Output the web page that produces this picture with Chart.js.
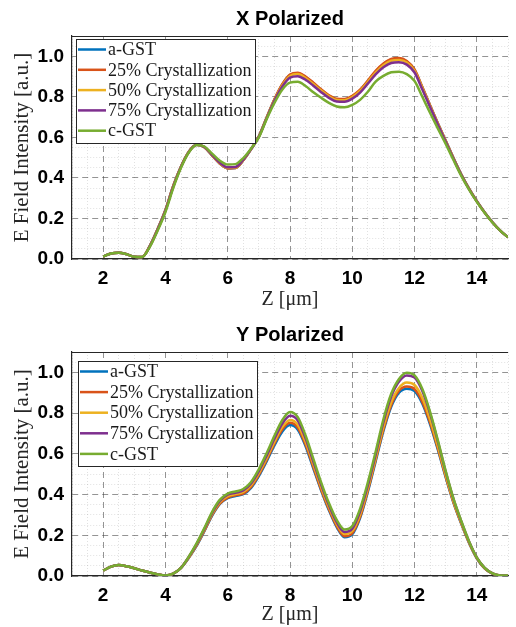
<!DOCTYPE html>
<html><head><meta charset="utf-8">
<script src="https://cdn.jsdelivr.net/npm/chart.js@4.4.1/dist/chart.umd.min.js"></script>
<style>
html,body{margin:0;padding:0;background:#fff;}
canvas{display:block;}
</style></head><body>
<canvas id="c1" width="516" height="310"></canvas>
<canvas id="c2" width="516" height="317"></canvas>
<script>
// ---------- data ----------
const zValues = [2,2.25,2.5,2.75,3,3.25,3.5,3.75,4,4.25,4.5,4.75,5,5.25,5.5,5.75,6,6.25,6.5,6.75,7,7.25,7.5,7.75,8,8.25,8.5,8.75,9,9.25,9.5,9.75,10,10.25,10.5,10.75,11,11.25,11.5,11.75,12,12.25,12.5,12.75,13,13.25,13.5,13.75,14,14.25,14.5,14.75,15];
const seriesNames = ['a-GST','25% Crystallization','50% Crystallization','75% Crystallization','c-GST'];
const chartTitles = ['X Polarized','Y Polarized'];
const xMajorTicks = [2,4,6,8,10,12,14];
const yMajorTicks = [0,0.2,0.4,0.6,0.8,1.0];

const xPolAGST = [0.012,0.027,0.031,0.024,0.011,0.010,0.065,0.148,0.242,0.360,0.456,0.529,0.563,0.551,0.510,0.470,0.447,0.449,0.487,0.542,0.605,0.697,0.786,0.860,0.907,0.916,0.897,0.867,0.834,0.805,0.787,0.786,0.802,0.832,0.877,0.925,0.961,0.984,0.988,0.974,0.932,0.846,0.756,0.668,0.583,0.498,0.417,0.347,0.285,0.230,0.181,0.140,0.107];
const xPolC25 = [0.012,0.027,0.031,0.024,0.011,0.010,0.065,0.148,0.242,0.360,0.456,0.529,0.563,0.551,0.510,0.470,0.447,0.449,0.487,0.542,0.605,0.698,0.788,0.862,0.910,0.919,0.900,0.870,0.837,0.808,0.790,0.789,0.805,0.835,0.880,0.928,0.964,0.987,0.991,0.977,0.935,0.848,0.757,0.668,0.583,0.498,0.417,0.347,0.285,0.230,0.181,0.140,0.107];
const xPolC50 = [0.012,0.027,0.031,0.024,0.011,0.010,0.064,0.146,0.240,0.358,0.455,0.528,0.563,0.552,0.512,0.472,0.449,0.451,0.489,0.542,0.604,0.696,0.784,0.856,0.903,0.912,0.893,0.863,0.831,0.802,0.784,0.783,0.799,0.829,0.873,0.920,0.956,0.978,0.982,0.969,0.928,0.843,0.754,0.666,0.581,0.496,0.416,0.346,0.284,0.229,0.181,0.140,0.107];
const xPolC75 = [0.012,0.027,0.031,0.024,0.011,0.010,0.063,0.145,0.238,0.356,0.454,0.527,0.563,0.553,0.514,0.475,0.452,0.454,0.490,0.542,0.603,0.694,0.780,0.850,0.895,0.902,0.884,0.855,0.823,0.795,0.777,0.776,0.791,0.821,0.865,0.911,0.946,0.967,0.971,0.959,0.920,0.836,0.749,0.662,0.578,0.494,0.415,0.345,0.284,0.229,0.181,0.140,0.107];
const xPolCGST = [0.012,0.027,0.031,0.024,0.011,0.010,0.060,0.140,0.232,0.350,0.450,0.525,0.562,0.555,0.520,0.485,0.466,0.468,0.498,0.545,0.600,0.690,0.770,0.835,0.870,0.874,0.853,0.822,0.795,0.770,0.752,0.748,0.760,0.785,0.825,0.875,0.903,0.921,0.924,0.912,0.878,0.800,0.720,0.643,0.568,0.488,0.410,0.342,0.282,0.228,0.180,0.140,0.107];

const yPolAGST = [0.026,0.046,0.054,0.048,0.038,0.027,0.017,0.008,0.003,0.012,0.040,0.089,0.148,0.220,0.297,0.354,0.382,0.393,0.402,0.433,0.491,0.563,0.641,0.709,0.741,0.718,0.637,0.528,0.420,0.323,0.240,0.190,0.205,0.285,0.414,0.563,0.712,0.831,0.900,0.920,0.908,0.846,0.744,0.619,0.484,0.359,0.256,0.162,0.086,0.038,0.012,0.003,0.002];
const yPolC25 = [0.026,0.046,0.054,0.048,0.038,0.027,0.017,0.008,0.003,0.012,0.040,0.090,0.150,0.222,0.300,0.357,0.385,0.396,0.405,0.437,0.497,0.570,0.650,0.720,0.752,0.728,0.645,0.535,0.425,0.328,0.245,0.195,0.210,0.290,0.420,0.570,0.720,0.840,0.910,0.930,0.918,0.855,0.752,0.625,0.488,0.362,0.258,0.163,0.087,0.038,0.012,0.003,0.002];
const yPolC50 = [0.026,0.046,0.054,0.048,0.038,0.027,0.017,0.008,0.003,0.012,0.040,0.092,0.154,0.227,0.305,0.363,0.392,0.402,0.413,0.446,0.505,0.579,0.660,0.731,0.766,0.743,0.659,0.548,0.437,0.338,0.255,0.206,0.221,0.302,0.430,0.578,0.733,0.853,0.923,0.950,0.938,0.874,0.768,0.636,0.495,0.367,0.262,0.166,0.089,0.039,0.013,0.003,0.002];
const yPolC75 = [0.026,0.046,0.054,0.048,0.038,0.027,0.017,0.008,0.003,0.012,0.040,0.094,0.157,0.231,0.310,0.369,0.399,0.409,0.420,0.454,0.515,0.591,0.674,0.748,0.787,0.764,0.676,0.562,0.449,0.348,0.264,0.216,0.232,0.316,0.445,0.596,0.755,0.881,0.955,0.985,0.974,0.908,0.797,0.659,0.511,0.377,0.268,0.169,0.090,0.040,0.013,0.003,0.002];
const yPolCGST = [0.026,0.046,0.054,0.048,0.038,0.027,0.017,0.008,0.003,0.012,0.040,0.095,0.160,0.235,0.315,0.375,0.405,0.415,0.427,0.462,0.525,0.603,0.688,0.765,0.805,0.780,0.690,0.575,0.460,0.358,0.275,0.228,0.245,0.330,0.460,0.610,0.770,0.895,0.968,0.998,0.985,0.918,0.805,0.665,0.515,0.380,0.270,0.170,0.090,0.040,0.013,0.003,0.002];

// ---------- styles ----------
const seriesColors = ['#0072BD','#D95319','#EDB120','#7E2F8E','#77AC30'];
const serif = '"Liberation Serif", "Times New Roman", serif';
const sans = '"Liberation Sans", Arial, sans-serif';

const xGridTicks = []; for (let v = 1; v <= 15.0001; v += 0.5) xGridTicks.push(Math.round(v*100)/100);
const yGridTicks = []; for (let i = 0; i <= 22; i++) yGridTicks.push(Math.round(i*5)/100);
const isMajor = (v, list) => list.some(m => Math.abs(m - v) < 1e-6);

const topBorder = {
  id: 'topBorder',
  afterDraw(chart) {
    const {ctx, chartArea: a} = chart;
    ctx.save(); ctx.strokeStyle = '#262626'; ctx.lineWidth = 1.2;
    ctx.beginPath(); ctx.moveTo(a.left, a.top + 0.5); ctx.lineTo(a.right, a.top + 0.5); ctx.stroke();
    ctx.restore();
  }
};

const boxLegend = {
  id: 'boxLegend',
  afterDatasetsDraw(chart, args, opts) {
    const ctx = chart.ctx, a = chart.chartArea, ds = chart.data.datasets;
    ctx.save();
    ctx.font = '18px ' + serif;
    let maxW = 0; ds.forEach(d => { maxW = Math.max(maxW, ctx.measureText(d.label).width); });
    const x0 = Math.round(a.left + opts.dx), y0 = Math.round(a.top + opts.dy);
    const w = Math.round(33 + maxW + 3), h = Math.round(opts.rowH * ds.length + 2);
    ctx.fillStyle = '#fff'; ctx.fillRect(x0, y0, w, h);
    ctx.strokeStyle = '#262626'; ctx.lineWidth = 1; ctx.strokeRect(x0 + 0.5, y0 + 0.5, w, h);
    ds.forEach((d, i) => {
      const cy = y0 + 10.5 + i * opts.rowH;
      ctx.strokeStyle = d.borderColor; ctx.lineWidth = 2.5;
      ctx.beginPath(); ctx.moveTo(x0 + 2, cy); ctx.lineTo(x0 + 30, cy); ctx.stroke();
      ctx.fillStyle = '#1a1a1a'; ctx.textBaseline = 'middle'; ctx.textAlign = 'left';
      ctx.fillText(d.label, x0 + 32, cy + 1);
    });
    ctx.restore();
  }
};

function makeChart(id, title, arrays, titlePad, xTitlePadBottom, legendOpts) {
  const datasets = arrays.map((arr, i) => ({
    label: seriesNames[i],
    data: zValues.map((z, k) => ({x: z, y: arr[k]})),
    borderColor: seriesColors[i],
    backgroundColor: seriesColors[i],
    borderWidth: 2.5,
    pointRadius: 0,
    cubicInterpolationMode: 'monotone',
    fill: false,
    order: arrays.length - 1 - i
  }));
  return new Chart(document.getElementById(id), {
    type: 'line',
    data: {datasets},
    plugins: [boxLegend, topBorder],
    options: {
      responsive: false,
      animation: false,
      devicePixelRatio: 1,
      layout: {padding: 0},
      plugins: {
        legend: {display: false},
        tooltip: {enabled: false},
        title: {display: true, text: title, fullSize: false, color: '#000',
                font: {family: sans, size: 20, weight: 'bold'}, padding: titlePad},
        boxLegend: legendOpts
      },
      scales: {
        x: {
          type: 'linear', min: 1, max: 15,
          afterBuildTicks: s => { s.ticks = xGridTicks.map(v => ({value: v})); },
          afterFit: s => { s.height = 51; },
          ticks: {autoSkip: false, maxRotation: 0, padding: 8, color: '#000',
                  font: {family: sans, size: 19, weight: 'bold'},
                  callback: v => isMajor(v, xMajorTicks) ? String(Math.round(v)) : ''},
          grid: {drawTicks: false, lineWidth: 1,
                 color: c => (c.tick && isMajor(c.tick.value, xMajorTicks)) ? 'rgba(60,60,60,0.55)' : 'rgba(120,120,120,0.22)'},
          border: {display: true, color: '#262626', width: 1.2,
                   dash: c => c.tick ? (isMajor(c.tick.value, xMajorTicks) ? [6, 4] : [1, 2]) : []},
          title: {display: true, text: 'Z [μm]', color: '#262626',
                  font: {family: serif, size: 20, lineHeight: 1}, padding: {top: 0, bottom: xTitlePadBottom}}
        },
        y: {
          type: 'linear', min: 0, max: 1.1,
          afterBuildTicks: s => { s.ticks = yGridTicks.map(v => ({value: v})); },
          afterFit: s => { s.width = 72; },
          ticks: {autoSkip: false, padding: 8, color: '#000',
                  font: {family: sans, size: 19, weight: 'bold'},
                  callback: v => isMajor(v, yMajorTicks) ? v.toFixed(1) : ''},
          grid: {drawTicks: false, lineWidth: 1,
                 color: c => (c.tick && isMajor(c.tick.value, yMajorTicks)) ? 'rgba(60,60,60,0.55)' : 'rgba(120,120,120,0.22)'},
          border: {display: true, color: '#262626', width: 1.2,
                   dash: c => c.tick ? (isMajor(c.tick.value, yMajorTicks) ? [6, 4] : [1, 2]) : []},
          title: {display: true, text: 'E Field Intensity [a.u.]', color: '#262626',
                  font: {family: serif, size: 21, lineHeight: 1}, padding: {top: 12, bottom: 0}}
        }
      }
    }
  });
}

makeChart('c1', chartTitles[0], [xPolAGST, xPolC25, xPolC50, xPolC75, xPolCGST],
  {top: 7, bottom: 5}, 0, {dx: 4, dy: 3, rowH: 20.3});
makeChart('c2', chartTitles[1], [yPolAGST, yPolC25, yPolC50, yPolC75, yPolCGST],
  {top: 13, bottom: 5}, 2, {dx: 6, dy: 9, rowH: 20.6});
</script>
</body></html>
